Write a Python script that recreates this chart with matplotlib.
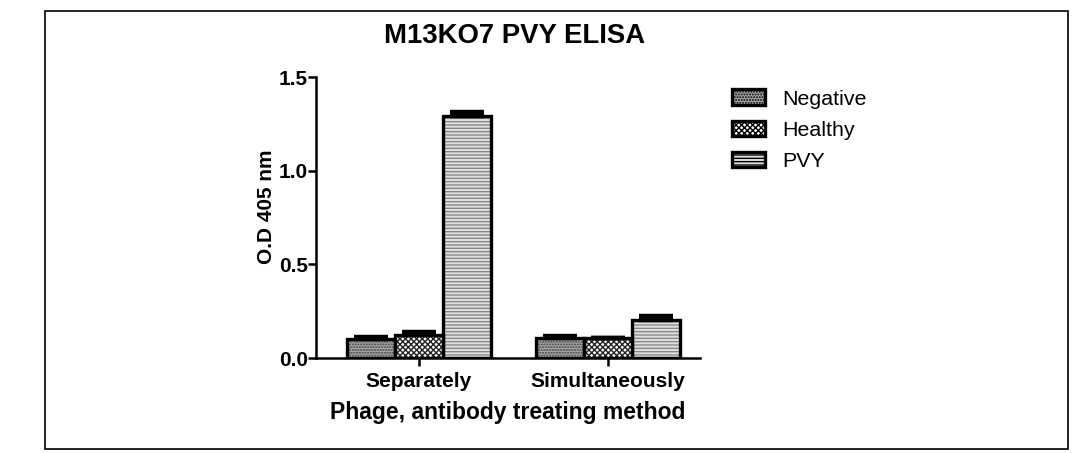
import matplotlib
matplotlib.use("Agg")
import matplotlib.pyplot as plt
from matplotlib.patches import Patch, Rectangle
import numpy as np

plt.rcParams['font.family'] = ['Liberation Sans', 'DejaVu Sans']

categories = ["Separately", "Simultaneously"]
series = ["Negative", "Healthy", "PVY"]
values = {
    "Negative": [0.100, 0.105],
    "Healthy": [0.125, 0.105],
    "PVY": [1.290, 0.205],
}
errors = {
    "Negative": [0.010, 0.012],
    "Healthy": [0.015, 0.003],
    "PVY": [0.025, 0.018],
}
yticks = [0.0, 0.5, 1.0, 1.5]
ytick_labels = ["0.0", "0.5", "1.0", "1.5"]

styles = {
    "Negative": dict(face="#a8a8a8", hatch="......", hcolor="#3e3e3e"),
    "Healthy": dict(face="#ffffff", hatch="xxxxxx", hcolor="#222222"),
    "PVY": dict(face="#e0e0e0", hatch="-----", hcolor="#8a8a8a"),
}

W, H = 1085, 453
fig = plt.figure(figsize=(W / 100, H / 100), dpi=100)
ax = fig.add_axes([316 / W, (H - 358) / H, 384 / W, 281 / H])
plt.rcParams['hatch.linewidth'] = 1.0

x = np.arange(len(categories))
bw = 0.254
offsets = [-bw, 0, bw]
for s, off in zip(series, offsets):
    st = styles[s]
    ax.bar(x + off, values[s], width=bw, color=st["face"], hatch=st["hatch"],
           edgecolor=st["hcolor"], linewidth=0, zorder=2)
    ax.bar(x + off, values[s], width=bw, facecolor="none", edgecolor="black",
           linewidth=2.4, zorder=3)
    ax.errorbar(x + off, values[s], yerr=[np.zeros(len(x)), errors[s]],
                fmt="none", ecolor="black", elinewidth=2.0, capsize=12,
                capthick=3.2, zorder=4)

ax.set_xlim(-0.545, 1.487)
ax.set_ylim(0, 1.5)
ax.set_yticks(yticks)
ax.set_yticklabels(ytick_labels)
ax.set_xticks(x)
ax.set_xticklabels(categories)
for side in ["top", "right"]:
    ax.spines[side].set_visible(False)
for side in ["left", "bottom"]:
    ax.spines[side].set_linewidth(1.8)
ax.tick_params(axis="y", direction="out", length=6, width=1.8,
               labelsize=15, pad=0)
ax.tick_params(axis="x", direction="out", length=6, width=1.8,
               labelsize=15, pad=4)
for lab in ax.get_xticklabels() + ax.get_yticklabels():
    lab.set_fontweight("bold")

ax.set_ylabel("O.D 405 nm", fontsize=15, fontweight="bold")
ax.yaxis.set_label_coords(-0.105, 0.537)
ax.set_xlabel("Phage, antibody treating method", fontsize=16.5, fontweight="bold",
              labelpad=7)
fig.text(515 / W, 1 - 36 / H, "M13KO7 PVY ELISA", ha="center", va="center",
         fontsize=19.8, fontweight="bold")

handles = []
for s in series:
    st = styles[s]
    handles.append(Patch(facecolor=st["face"], hatch=st["hatch"],
                         edgecolor="black", linewidth=2.4, label=s))
leg = fig.legend(handles=handles, loc="upper left",
                 bbox_to_anchor=(713 / W, 1 - 70 / H), frameon=False,
                 fontsize=15.4, handlelength=1.55, handleheight=0.75,
                 labelspacing=0.56, handletextpad=0.8)

fig.patches.append(Rectangle((45 / W, 1 - 449 / H), (1068 - 45) / W, (449 - 11) / H,
                             transform=fig.transFigure, fill=False,
                             edgecolor="black", linewidth=1.2))

fig.savefig("out.png", dpi=100)
